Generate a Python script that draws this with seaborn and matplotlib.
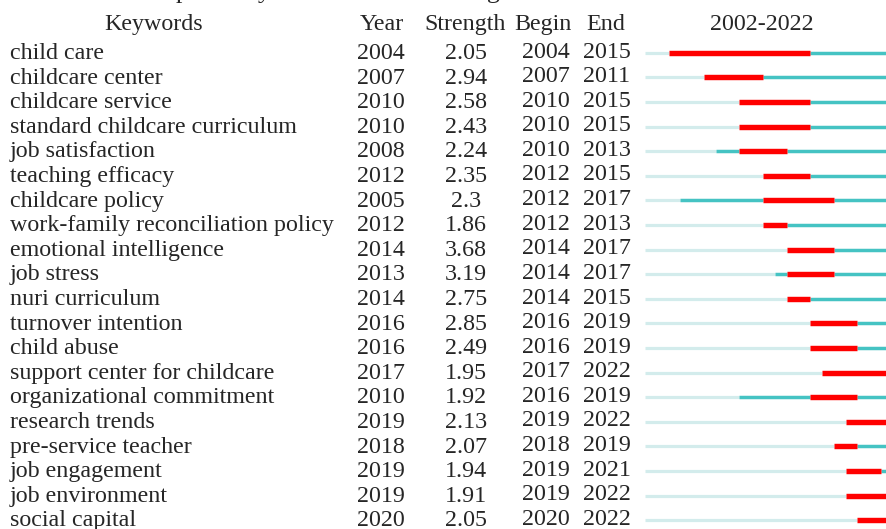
import matplotlib
matplotlib.use("Agg")
import matplotlib.pyplot as plt
import seaborn as sns
import pandas as pd

keywords = ["child care", "childcare center", "childcare service",
            "standard childcare curriculum", "job satisfaction", "teaching efficacy",
            "childcare policy", "work-family reconciliation policy",
            "emotional intelligence", "job stress", "nuri curriculum",
            "turnover intention", "child abuse", "support center for childcare",
            "organizational commitment", "research trends", "pre-service teacher",
            "job engagement", "job environment", "social capital"]
years = [2004, 2007, 2010, 2010, 2008, 2012, 2005, 2012, 2014, 2013, 2014,
         2016, 2016, 2017, 2010, 2019, 2018, 2019, 2019, 2020]
strengths = ["2.05", "2.94", "2.58", "2.43", "2.24", "2.35", "2.3", "1.86", "3.68",
             "3.19", "2.75", "2.85", "2.49", "1.95", "1.92", "2.13", "2.07", "1.94",
             "1.91", "2.05"]
begins = [2004, 2007, 2010, 2010, 2010, 2012, 2012, 2012, 2014, 2014, 2014,
          2016, 2016, 2017, 2016, 2019, 2018, 2019, 2019, 2020]
ends = [2015, 2011, 2015, 2015, 2013, 2015, 2017, 2013, 2017, 2017, 2015,
        2019, 2019, 2022, 2019, 2022, 2019, 2021, 2022, 2022]
first_year, last_year = 2002, 2022
title = "Top 20 Keywords with the Strongest Citation Bursts"
headers = ["Keywords", "Year", "Strength", "Begin", "End", "2002-2022"]

sns.set_theme(style="white")
plt.rcParams["font.family"] = ["Liberation Serif", "DejaVu Serif"]
plt.rcParams["lines.solid_capstyle"] = "butt"

# build segments
rows = []
seg = 0
for i, (y, b, e) in enumerate(zip(years, begins, ends)):
    parts = [("light", first_year, y), ("teal", y, b), ("red", b, e + 1),
             ("teal", e + 1, last_year + 1)]
    for kind, x0, x1 in parts:
        if x1 > x0:
            rows.append({"x": x0, "row": i, "kind": kind, "seg": seg})
            rows.append({"x": x1, "row": i, "kind": kind, "seg": seg})
            seg += 1
df = pd.DataFrame(rows)

W, H = 886, 529
fig = plt.figure(figsize=(W / 100, H / 100), dpi=100)

row_h = 24.6
y0 = 52.7
ylim = ((H - y0) / row_h, -y0 / row_h)

ax = fig.add_axes([0, 0, 1, 1])
ax.set_xlim(0, W)
ax.set_ylim(*ylim)
ax.axis("off")

tl_left = 645
yr_w = 11.8
tax = fig.add_axes([tl_left / W, 0, (yr_w * (last_year - first_year + 1)) / W, 1])
palette = {"light": "#D3ECEC", "teal": "#45C3C3", "red": "#FF0000"}
sizes = {"light": 2.3, "teal": 2.5, "red": 3.9}
sns.lineplot(data=df, x="x", y="row", hue="kind", size="kind", units="seg",
             estimator=None, sort=False, palette=palette, sizes=sizes,
             hue_order=["light", "teal", "red"], size_order=["light", "teal", "red"],
             legend=False, ax=tax)
tax.set_xlim(first_year, last_year + 1)
tax.set_ylim(*ylim)
tax.axis("off")

fs = 17.3
hdr_y = (30 - y0) / row_h
ax.text(149, (-2.3 - y0) / row_h, title, fontsize=18.6, ha="left", va="baseline")
hx = [154, 382, 465, 543, 606, 762]
for x, h in zip(hx, headers):
    ax.text(x, hdr_y, h, fontsize=fs, ha="center", va="baseline")

for i in range(len(keywords)):
    yb = i + (59 - y0) / row_h
    yb2 = i + (57.5 - y0) / row_h
    ax.text(10, yb, keywords[i], fontsize=fs, ha="left", va="baseline")
    ax.text(381, yb, str(years[i]), fontsize=fs, ha="center", va="baseline")
    ax.text(466, yb, strengths[i], fontsize=fs, ha="center", va="baseline")
    ax.text(546, yb2, str(begins[i]), fontsize=fs, ha="center", va="baseline")
    ax.text(607, yb2, str(ends[i]), fontsize=fs, ha="center", va="baseline")

fig.savefig("out.png", dpi=100)
